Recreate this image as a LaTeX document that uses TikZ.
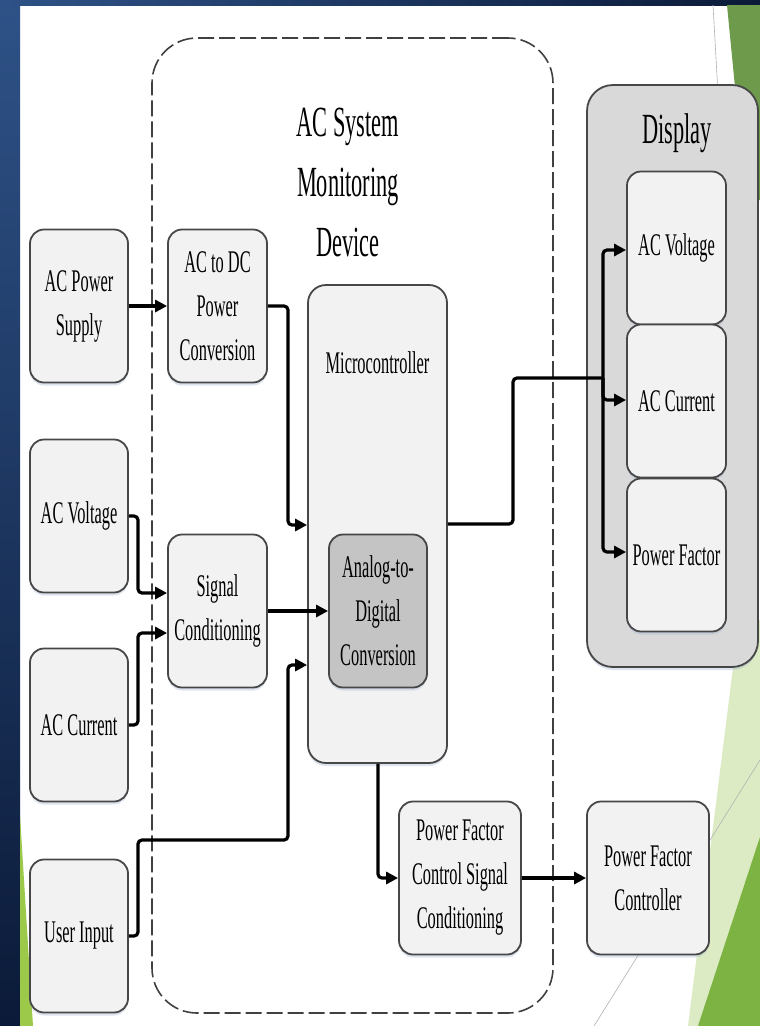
\documentclass[tikz,border=0pt]{standalone}
\usepackage{fontspec}
\setmainfont{Liberation Serif}[FakeStretch=0.52]
\usepackage{tikz}
\usetikzlibrary{arrows.meta}
\usetikzlibrary{shadows}
\definecolor{boxfill}{HTML}{F2F2F2}
\definecolor{boxline}{HTML}{474747}
\definecolor{dispfill}{HTML}{D9D9D9}
\definecolor{adcfill}{HTML}{C4C4C4}
\definecolor{shadowblue}{HTML}{9FB4D0}
\definecolor{navytop}{HTML}{2E5287}
\definecolor{navybot}{HTML}{0B1A38}
\definecolor{leafdark}{HTML}{6E9A4C}
\definecolor{leafgreen}{HTML}{7CB342}
\definecolor{leaflight}{HTML}{DCEBC4}
\definecolor{leafwedge}{HTML}{9CC94A}
\tikzset{
    box/.style={draw=boxline, fill=boxfill, line width=1.8pt, rounded corners=14pt, align=center, inner sep=0pt, minimum height=153pt,
        drop shadow={shadow xshift=0pt, shadow yshift=-3pt, fill=shadowblue, opacity=0.35}},
    flow/.style={line width=3.2pt, rounded corners=4pt, -{Triangle[length=12pt,width=12pt]}},
    wire/.style={line width=3.2pt, rounded corners=4pt}
}

\begin{document}
\begin{tikzpicture}[x=1pt, y=-1pt, font=\fontsize{31.5}{44}\selectfont]
\useasboundingbox (0,0) rectangle (760,1026);
% slide background
\fill[white] (0,0) rectangle (760,1026);
\fill[top color=navytop, bottom color=navybot] (0,0) rectangle (20,1026);
\fill[left color=navytop, right color=navybot] (0,0) rectangle (760,5);
\fill[leafwedge] (20,815) -- (33,1026) -- (20,1026) -- cycle;
\fill[leafdark] (727,5) -- (760,5) -- (760,200) -- (746,200) -- cycle;
\draw[gray!60, line width=0.6pt] (713,5) -- (724,200);
\fill[leaflight] (739,620) -- (760,620) -- (760,1026) -- (688,1026) -- cycle;
\fill[leafgreen] (760,837) -- (760,1026) -- (698,1026) -- cycle;
\draw[gray!60, line width=0.6pt] (760,760) -- (594,1026);

% monitoring device frame
\node[draw=black!75, line width=1.6pt, dash pattern=on 16pt off 5pt, rounded corners=45pt, minimum width=401pt, minimum height=975pt] (dev) at (352.5,525.5) {};
\node[font=\fontsize{43}{60}\selectfont, align=center] (devtext) at (348,182) {AC System\\Monitoring\\Device};

% display frame
\node[box, fill=dispfill, rounded corners=26pt, minimum width=171pt, minimum height=582pt] (disp) at (672.5,376) {};
\node[font=\fontsize{43}{60}\selectfont] (disptext) at (677,133) {Display};

% microcontroller
\node[box, minimum width=139pt, minimum height=478pt, rounded corners=18pt] (mc) at (377.5,524) {};
\node (mctext) at (377.5,363) {Microcontroller};

% blocks
\foreach \x/\y/\w/\p/\t in {79/306/98/ps/{AC Power\\Supply}, 79/516/98/av/{AC Voltage}, 79/725/98/ai/{AC Current}, 79/936/98/ui/{User Input},
    217.5/306/99/dc/{AC to DC\\Power\\Conversion}, 217.5/611/99/sc/{Signal\\Conditioning},
    460/878/122/pfc/{Power Factor\\Control Signal\\Conditioning}, 648/878/122/pfk/{Power Factor\\Controller},
    676.5/248/99/dv/{AC Voltage}, 676.5/401/99/di/{AC Current}, 676.5/555/99/dp/{Power Factor}}{
    \node[box, minimum width=\w] (\p) at (\x,\y) {\t};
}
\node[box, fill=adcfill, minimum width=98pt] (adc) at (378,611) {Analog-to-\\Digital\\Conversion};

% connections
\draw[flow] (ps.east) -- (dc.west);
\draw[flow] (dc.east) -- (288,306) |- (mc.west |- 0,525);
\draw[flow] (av.east) -- (138,516) |- (sc.west |- 0,593);
\draw[flow] (ai.east) -- (138,725) |- (sc.west |- 0,633);
\draw[flow] (sc.east) -- (adc.west);
\draw[flow] (ui.east) -- (138,936) |- (288,840) |- (mc.west |- 0,665);
\coordinate (split) at (603,378);
\draw[wire] (mc.east) -- (513,524) |- (split);
\draw[flow] (split) |- (dv.west |- 0,250);
\draw[flow] (split) |- (di.west |- 0,400);
\draw[flow] (split) |- (dp.west |- 0,552);
\draw[flow] (mc.south -| 378,0) |- (pfc.west);
\draw[flow] (pfc.east) -- (pfk.west);
\end{tikzpicture}
\end{document}
